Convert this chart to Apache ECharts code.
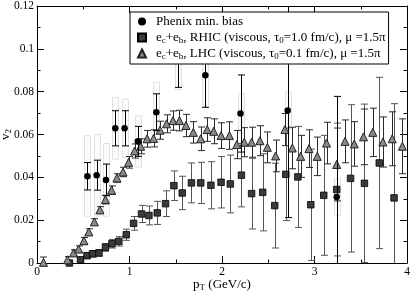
<!DOCTYPE html>
<html><head><meta charset="utf-8">
<script src="https://cdn.jsdelivr.net/npm/echarts@6/dist/echarts.min.js"></script>
<style>html,body{margin:0;padding:0;background:#fff}#c{width:411px;height:294px}</style>
</head><body><div id="c"></div>
<script>
// Phenix min. bias data
const phenixX    = [0.545, 0.645, 0.745, 0.846, 0.947, 1.09, 1.29, 1.52, 1.82, 2.20, 2.71, 3.24];
const phenixY    = [0.0405, 0.041, 0.0388, 0.0629, 0.0629, 0.0568, 0.0704, 0.095, 0.0877, 0.0698, 0.0712, 0.0308];
const phenixStat = [0.0064, 0.007, 0.0074, 0.0082, 0.0082, 0.007, 0.0086, 0.013, 0.015, 0.018, 0.05, 0.047];
const phenixSys  = [0.019, 0.019, 0.017, 0.0145, 0.0136, 0.012, 0.014, 0.014, 0.0145, 0.0092, 0.0087, 0.0087];
// RHIC (viscous, tau0 = 1.0 fm/c)
const rhicX   = [0.35, 0.47, 0.54, 0.60, 0.67, 0.74, 0.81, 0.885, 0.965, 1.044, 1.13, 1.21, 1.30, 1.39, 1.48, 1.57, 1.67, 1.77, 1.88, 1.99, 2.09, 2.21, 2.32, 2.44, 2.57, 2.69, 2.82, 2.96, 3.10, 3.24, 3.39, 3.54, 3.70, 3.86];
const rhicY   = [0.0, 0.0015, 0.0034, 0.0043, 0.0047, 0.0073, 0.009, 0.0101, 0.0132, 0.0185, 0.0229, 0.0222, 0.0234, 0.0277, 0.0361, 0.0327, 0.0374, 0.0374, 0.0363, 0.0377, 0.0369, 0.041, 0.0324, 0.033, 0.0268, 0.0414, 0.0402, 0.0272, 0.0316, 0.0343, 0.0395, 0.0372, 0.0467, 0.0304];
const rhicErr = [0.001, 0.001, 0.0012, 0.0015, 0.0015, 0.0018, 0.002, 0.0022, 0.0026, 0.0032, 0.004, 0.0044, 0.0054, 0.006, 0.0069, 0.0078, 0.0093, 0.0096, 0.011, 0.012, 0.0135, 0.0148, 0.0165, 0.018, 0.0198, 0.0216, 0.0236, 0.026, 0.028, 0.031, 0.0344, 0.037, 0.040, 0.044];
// LHC (viscous, tau0 = 0.1 fm/c)
const lhcX   = [0.07, 0.33, 0.395, 0.45, 0.507, 0.56, 0.62, 0.68, 0.74, 0.806, 0.864, 0.93, 0.99, 1.055, 1.12, 1.19, 1.26, 1.33, 1.40, 1.47, 1.54, 1.61, 1.69, 1.77, 1.84, 1.91, 1.99, 2.08, 2.16, 2.24, 2.32, 2.41, 2.49, 2.58, 2.68, 2.76, 2.85, 2.94, 3.03, 3.13, 3.24, 3.33, 3.43, 3.53, 3.63, 3.74, 3.84, 3.95];
const lhcY   = [0.0003, 0.0015, 0.0047, 0.0065, 0.0104, 0.0145, 0.0192, 0.0248, 0.0296, 0.034, 0.0397, 0.0425, 0.047, 0.0523, 0.0545, 0.058, 0.0582, 0.062, 0.065, 0.0665, 0.0665, 0.0642, 0.061, 0.058, 0.0623, 0.0615, 0.0595, 0.0595, 0.0553, 0.0564, 0.0564, 0.0571, 0.054, 0.050, 0.0623, 0.0537, 0.0498, 0.0534, 0.0498, 0.056, 0.046, 0.0568, 0.0556, 0.0589, 0.061, 0.0565, 0.058, 0.0545];
const lhcErr = [0.0025, 0.0015, 0.0015, 0.0015, 0.0015, 0.0015, 0.0015, 0.0015, 0.002, 0.002, 0.002, 0.0022, 0.0027, 0.0033, 0.0035, 0.0039, 0.004, 0.0042, 0.0042, 0.0045, 0.0048, 0.0052, 0.005, 0.0055, 0.0055, 0.0058, 0.006, 0.0064, 0.0066, 0.0068, 0.007, 0.007, 0.0072, 0.0074, 0.0075, 0.0097, 0.0098, 0.0088, 0.009, 0.0097, 0.017, 0.010, 0.0104, 0.013, 0.0113, 0.0117, 0.0126, 0.0128];
// axis ticks
const xTickValues = [0, 1, 2, 3, 4];
const yTickValues = [0, 0.02, 0.04, 0.06, 0.08, 0.1, 0.12];

const serif = '"Liberation Serif", "DejaVu Serif", serif';
const zip3 = (a, b, c) => a.map((v, i) => [v, b[i], c[i]]);

function errRender(color, capHalf) {
  return function (params, api) {
    const x = api.value(0), y = api.value(1), e = api.value(2);
    const cs = params.coordSys;
    const t = api.coord([x, y + e]), b = api.coord([x, y - e]);
    const minY = cs.y, maxY = cs.y + cs.height;
    const px = Math.round(t[0]) + 0.5;
    const y1 = Math.max(t[1], minY), y2 = Math.min(b[1], maxY);
    const st = { stroke: color, lineWidth: 1 };
    const ch = [{ type: 'line', shape: { x1: px, y1: y1, x2: px, y2: y2 }, style: st }];
    if (t[1] >= minY) ch.push({ type: 'line', shape: { x1: px - capHalf, y1: t[1], x2: px + capHalf, y2: t[1] }, style: st });
    if (b[1] <= maxY) ch.push({ type: 'line', shape: { x1: px - capHalf, y1: b[1], x2: px + capHalf, y2: b[1] }, style: st });
    return { type: 'group', children: ch };
  };
}
function boxRender(params, api) {
  const x = api.value(0), y = api.value(1), s = api.value(2);
  const cs = params.coordSys;
  const t = api.coord([x, y + s]), b = api.coord([x, y - s]);
  const y1 = Math.max(t[1], cs.y), y2 = Math.min(b[1], cs.y + cs.height);
  const px = Math.round(t[0]);
  return { type: 'rect', shape: { x: px - 2.5, y: y1, width: 6, height: y2 - y1 },
    style: { fill: 'rgba(245,245,245,0.4)', stroke: '#e2e2e2', lineWidth: 1 } };
}

const chart = echarts.init(document.getElementById('c'), null, { renderer: 'canvas' });
const axisCommon = {
  type: 'value', axisLine: { show: true, onZero: false, lineStyle: { color: '#000', width: 1 } },
  splitLine: { show: false },
  axisTick: { show: true, inside: true, length: 7, lineStyle: { color: '#000' } },
  minorTick: { show: true, splitNumber: 2, length: 3.5, lineStyle: { color: '#000' } }
};
const rich = {
  s: { fontSize: 9, fontFamily: serif, lineHeight: 6, verticalAlign: 'bottom', color: '#000' }
};
chart.setOption({
  animation: false,
  backgroundColor: '#fff',
  grid: { left: 37, right: 4, top: 6, bottom: 31, containLabel: false, outerBoundsMode: 'none' },
  xAxis: [
    Object.assign({}, axisCommon, { min: 0, max: 4, interval: 1, position: 'bottom',
      name: 'p{s|T} (GeV/c)', nameLocation: 'middle', nameGap: 14, nameMoveOverlap: false,
      nameTextStyle: { fontFamily: serif, fontSize: 13, color: '#000', lineHeight: 15, rich: rich },
      axisLabel: { fontFamily: serif, fontSize: 11.5, color: '#000', margin: 3 } }),
    Object.assign({}, axisCommon, { min: 0, max: 4, interval: 1, position: 'top', axisLabel: { show: false } })
  ],
  yAxis: [
    Object.assign({}, axisCommon, { min: 0, max: 0.12, interval: 0.02, position: 'left',
      name: 'v{s|2}', nameLocation: 'middle', nameGap: 24, nameRotate: 90, nameMoveOverlap: false,
      nameTextStyle: { fontFamily: serif, fontSize: 13, color: '#000', lineHeight: 15, rich: rich },
      axisLabel: { fontFamily: serif, fontSize: 11.5, color: '#000', margin: 3 } }),
    Object.assign({}, axisCommon, { min: 0, max: 0.12, interval: 0.02, position: 'right', axisLabel: { show: false } })
  ],
  legend: {
    data: ['Phenix min. bias', 'RHIC', 'LHC'],
    orient: 'vertical', left: 130, top: 12,
    padding: [2, 3, 3, 7], itemGap: 1,
    itemWidth: 8, itemHeight: 8,
    backgroundColor: '#fff', borderColor: '#000', borderWidth: 1, borderRadius: 0,
    z: 20,
    selectedMode: false,
    textStyle: { fontFamily: serif, fontSize: 13, color: '#000', lineHeight: 15, padding: [0, 0, 0, 5], rich: rich },
    formatter: function (n) {
      if (n === 'RHIC') return 'e{s|c}+e{s|b}, RHIC (viscous, \u03c4{s|0}=1.0 fm/c), \u03bc =1.5\u03c0';
      if (n === 'LHC') return 'e{s|c}+e{s|b}, LHC (viscous, \u03c4{s|0}=0.1 fm/c), \u03bc =1.5\u03c0';
      return n;
    }
  },
  series: [
    { name: 'phenixSys', type: 'custom', renderItem: boxRender, data: zip3(phenixX, phenixY, phenixSys), encode: { x: 0, y: 1 }, z: 1, silent: true },
    { name: 'rhicErr', type: 'custom', renderItem: errRender('#555', 3.5), data: zip3(rhicX, rhicY, rhicErr), encode: { x: 0, y: 1 }, z: 2, silent: true },
    { name: 'RHIC', type: 'scatter', data: rhicX.map((x, i) => [x, rhicY[i]]), symbol: 'rect', symbolSize: 6.5,
      itemStyle: { color: '#3a3a3a', borderColor: '#000', borderWidth: 0.8, opacity: 1 }, z: 3 },
    { name: 'lhcErr', type: 'custom', renderItem: errRender('#2a2a2a', 3.5), data: zip3(lhcX, lhcY, lhcErr), encode: { x: 0, y: 1 }, z: 4, silent: true },
    { name: 'LHC', type: 'scatter', data: lhcX.map((x, i) => [x, lhcY[i]]), symbol: 'triangle', symbolSize: 8,
      itemStyle: { color: '#8a8a8a', borderColor: '#222', borderWidth: 1, opacity: 1 }, z: 5 },
    { name: 'phenixErr', type: 'custom', renderItem: errRender('#000', 3.5), data: zip3(phenixX, phenixY, phenixStat), encode: { x: 0, y: 1 }, z: 6, silent: true },
    { name: 'Phenix min. bias', type: 'scatter', data: phenixX.map((x, i) => [x, phenixY[i]]), symbol: 'circle', symbolSize: 6.5,
      itemStyle: { color: '#000', opacity: 1 }, z: 7 }
  ]
});
</script></body></html>
